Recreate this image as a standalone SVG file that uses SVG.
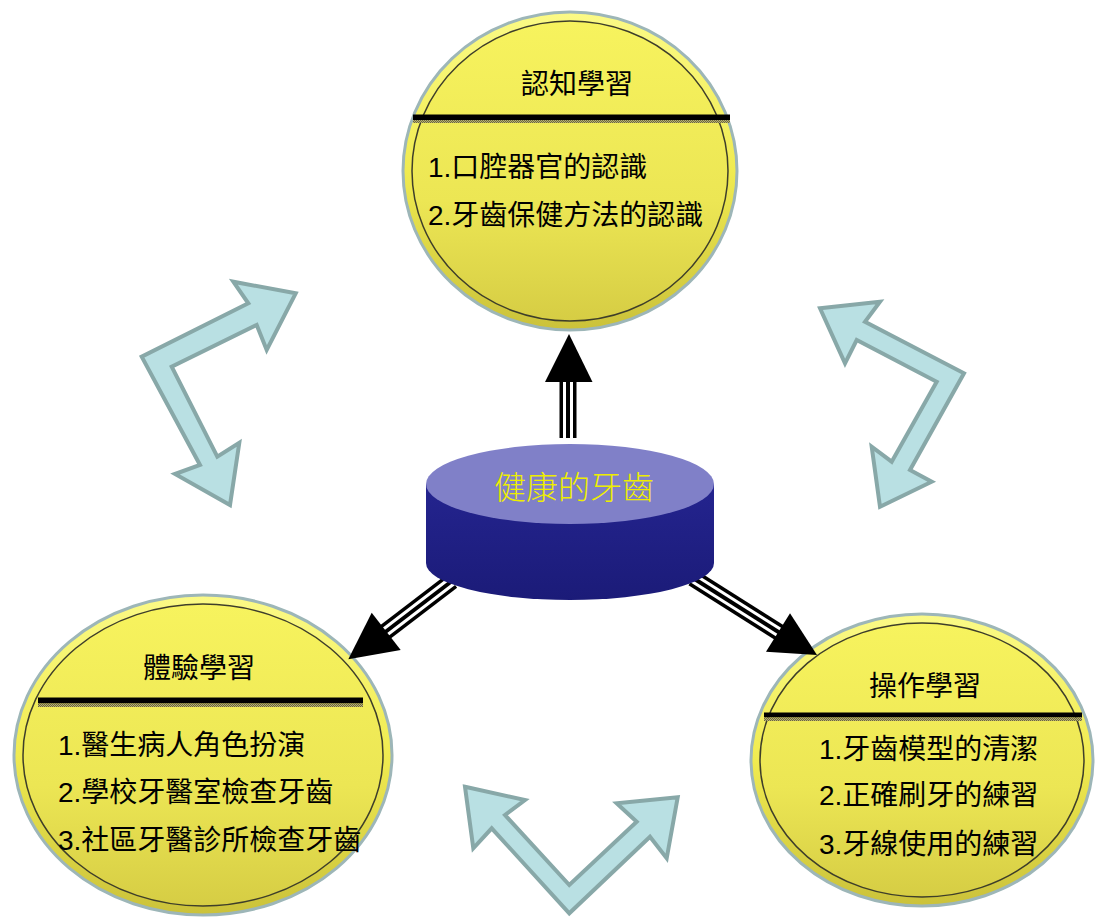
<svg xmlns="http://www.w3.org/2000/svg" width="1096" height="919" viewBox="0 0 1096 919">
<defs>
<linearGradient id="rim" x1="0" y1="0" x2="0" y2="1">
<stop offset="0" stop-color="#FBFA86"/>
<stop offset="0.5" stop-color="#F0EB50"/>
<stop offset="1" stop-color="#CBC23A"/>
</linearGradient>
<linearGradient id="face" x1="0" y1="0" x2="0" y2="1">
<stop offset="0" stop-color="#F7F35E"/>
<stop offset="0.6" stop-color="#ECE654"/>
<stop offset="1" stop-color="#D6CD44"/>
</linearGradient>
<linearGradient id="side" x1="0" y1="0" x2="0" y2="1">
<stop offset="0" stop-color="#24248F"/>
<stop offset="1" stop-color="#1B1B78"/>
</linearGradient>
<pattern id="hatch" width="2" height="2" patternUnits="userSpaceOnUse">
<rect width="2" height="2" fill="#B8B070"/>
<rect width="1" height="1" fill="#6A6640"/>
<rect x="1" y="1" width="1" height="1" fill="#6A6640"/>
</pattern>
</defs>
<style>
.halo{fill:url(#rim);stroke:#9DB6B8;stroke-width:3}
.face{fill:url(#face);stroke:#3E3E2A;stroke-width:1.5}
.bar{fill:#000}
.sh{fill:url(#hatch)}
.t{font-family:"Liberation Sans","Noto Sans CJK TC",sans-serif;font-size:28px;fill:#000}
.bent{fill:#B9E0E3;stroke:#88A8A8;stroke-width:4;stroke-linejoin:miter}
.k1{stroke:#000;stroke-width:17;fill:none}
.k2{stroke:#fff;stroke-width:10;fill:none}
.k3{stroke:#000;stroke-width:4;fill:none}
.head{fill:#000}
</style>
<rect width="1096" height="919" fill="#fff"/>

<g id="node-cognitive">
<ellipse class="halo" cx="570" cy="171" rx="167" ry="159"/>
<ellipse class="face" cx="570" cy="171" rx="158" ry="150"/>
<rect class="bar" x="413" y="114.5" width="317" height="5.5"/>
<rect class="sh" x="413" y="120" width="317" height="3"/>
<text class="t" x="577" y="94" text-anchor="middle">認知學習</text>
<text class="t" x="428" y="177">1.口腔器官的認識</text>
<text class="t" x="428" y="225">2.牙齒保健方法的認識</text>
</g>

<g id="node-experience">
<ellipse class="halo" cx="203" cy="755" rx="189" ry="160"/>
<ellipse class="face" cx="203" cy="755" rx="180" ry="151"/>
<rect class="bar" x="38" y="697.5" width="325" height="6"/>
<rect class="sh" x="38" y="703.5" width="325" height="3.5"/>
<text class="t" x="199" y="678" text-anchor="middle">體驗學習</text>
<text class="t" x="58" y="755">1.醫生病人角色扮演</text>
<text class="t" x="58" y="802">2.學校牙醫室檢查牙齒</text>
<text class="t" x="58" y="850">3.社區牙醫診所檢查牙齒</text>
</g>

<g id="node-operation">
<ellipse class="halo" cx="922" cy="760" rx="171" ry="146"/>
<ellipse class="face" cx="922" cy="760" rx="162" ry="137"/>
<rect class="bar" x="764" y="712.5" width="318" height="5"/>
<rect class="sh" x="764" y="717.5" width="318" height="3.5"/>
<text class="t" x="925" y="696" text-anchor="middle">操作學習</text>
<text class="t" x="819" y="759">1.牙齒模型的清潔</text>
<text class="t" x="819" y="805">2.正確刷牙的練習</text>
<text class="t" x="819" y="854">3.牙線使用的練習</text>
</g>

<g id="cycle-arrows">
<polygon class="bent" points="295.7,293.3 266.7,350 256.7,325 171.7,366.7 217.3,456.7 239.3,442.7 230,505 175,474 200,465 141.7,356.7 248.3,303.3 233.3,281.7"/>
<polygon class="bent" points="820,308.3 880,301.7 865,321.7 964,373.3 910,470 931.7,481.7 880,506.7 871.7,446.7 891.7,461.7 936.7,381.7 856.7,340 845,363.3"/>
<polygon class="bent" points="465,786.7 525,800 505,815 569.3,885 636.7,821.7 616.7,803.3 677.7,797.3 666.7,858.3 650,836.7 569.3,913.3 491.7,828.3 473.3,848.3"/>
</g>

<g id="connectors">
<g id="conn-up">
<line class="k1" x1="568" y1="438" x2="568" y2="380"/>
<line class="k2" x1="568" y1="438" x2="568" y2="380"/>
<line class="k3" x1="568" y1="438" x2="568" y2="380"/>
<polygon class="head" points="569,334 592.5,382 545,382"/>
</g>
<g id="conn-left">
<line class="k1" x1="452" y1="581" x2="384" y2="633"/>
<line class="k2" x1="452" y1="581" x2="384" y2="633"/>
<line class="k3" x1="452" y1="581" x2="384" y2="633"/>
<polygon class="head" points="348.3,659.3 371.7,612.7 400.7,650"/>
</g>
<g id="conn-right">
<line class="k1" x1="693" y1="578" x2="780" y2="633"/>
<line class="k2" x1="693" y1="578" x2="780" y2="633"/>
<line class="k3" x1="693" y1="578" x2="780" y2="633"/>
<polygon class="head" points="817,655 766,651.7 790,613.3"/>
</g>
</g>

<g id="node-center">
<path d="M426,484 L426,563 A144,37 0 0 0 714,563 L714,484 Z" fill="url(#side)"/>
<ellipse cx="570" cy="484" rx="144" ry="40" fill="#8080C8"/>
<text x="574" y="499" text-anchor="middle" font-family="'Noto Sans CJK TC',sans-serif" font-size="32" font-weight="300" fill="#EEEE00">健康的牙齒</text>
</g>
</svg>
